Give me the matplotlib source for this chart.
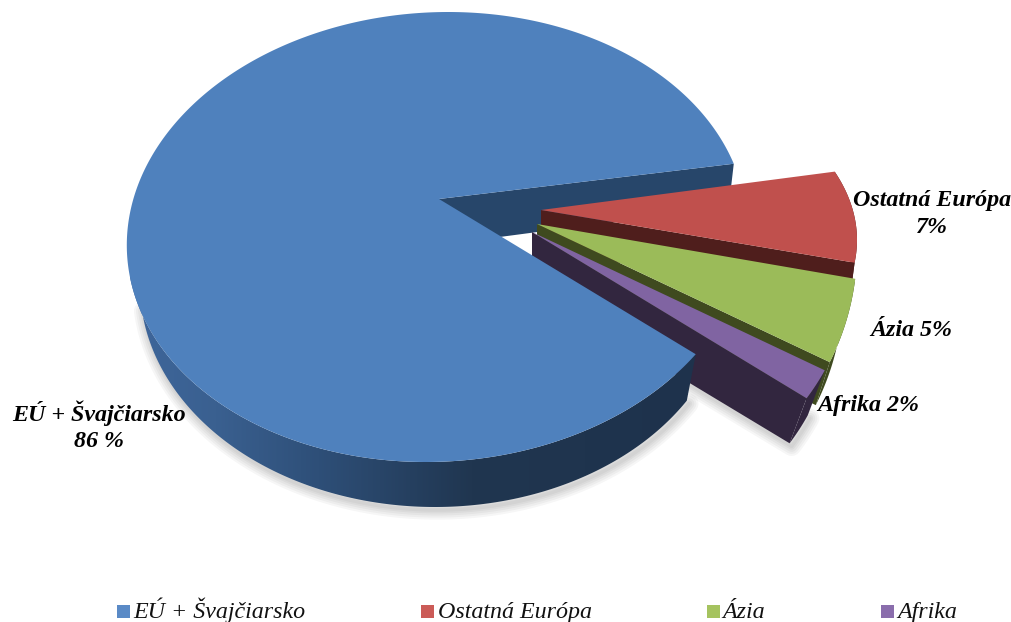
import numpy as np
import matplotlib
matplotlib.use("Agg")
import matplotlib.pyplot as plt
from matplotlib.colors import LinearSegmentedColormap
from matplotlib.patches import Polygon, Rectangle

categories = ["EÚ + Švajčiarsko", "Ostatná Európa", "Ázia", "Afrika"]
values = [86, 7, 5, 2]
slice_labels = ["EÚ + Švajčiarsko\n86 %", "Ostatná Európa\n7%", "Ázia 5%", "Afrika 2%"]

top_colors = ["#4F81BD", "#C0504D", "#9BBB59", "#8064A2"]
wall_colors = ["#27466A", "#4F1E1C", "#3F4A1F", "#32263F"]
legend_colors = ["#5A8AC6", "#CB5B57", "#A5C35F", "#8A6DAC"]

# geometry of each slice in pixels: rim centre, radii, skew, apex, rim/apex wall drop
centres = [(437, 237), (447, 240), (547, 249), (542, 267)]
radii = [(310, 225), (410, 210), (310, 276), (310, 252)]
skews = [-0.05, 0, 0, 0]
apexes = [(439, 199), (541, 210), (537, 224), (532, 232)]
rim_drop = [(-5, 43), (-5, 38), (-14, 43), (-17, 45)]
apex_drop = [46, 40, 40, 56]
START = 19.0

W, H = 1011, 622
fig = plt.figure(figsize=(W / 100, H / 100), dpi=100)
ax = fig.add_axes([0, 0, 1, 1])
ax.set_xlim(0, W)
ax.set_ylim(H, 0)
ax.axis("off")

span = [v / sum(values) * 360 for v in values]
bounds = [START]
for s in span[1:]:
    bounds.append(bounds[-1] - s)


def rim(i, t):
    t = np.radians(t)
    cx, cy = centres[i]
    a, b = radii[i]
    dy = -b * np.sin(t)
    return np.column_stack([cx + a * np.cos(t) + skews[i] * dy, cy + dy])


def soft_shadow(xy, z=1):
    for lw in [14, 11, 8, 5, 2.5]:
        ax.plot(xy[:, 0] + 2, xy[:, 1] + 3, color="black", alpha=0.035, lw=lw,
                solid_capstyle="round", zorder=z)


# blue inner wall
blue_end = START + span[0]
p0 = rim(0, np.array([START]))[0]
ax_blue = apexes[0]
inner = [ax_blue, tuple(p0), (p0[0] + rim_drop[0][0], p0[1] + rim_drop[0][1]),
         (ax_blue[0], ax_blue[1] + apex_drop[0])]
ax.add_patch(Polygon(inner, closed=True, fc=wall_colors[0], ec="none", zorder=2))

# exploded slices, back to front
for k, i in enumerate([1, 2, 3]):
    z = 3 + k
    t = np.linspace(bounds[k], bounds[k + 1], 40)
    arc = rim(i, t)
    dx, dy = rim_drop[i]
    apex = np.array(apexes[i], float)
    low = arc + np.array([dx, dy])
    if i == 3:
        soft_shadow(np.vstack([[apex[0], apex[1] + apex_drop[i]], low[-1:], low[::-1]]))
    ax.add_patch(Polygon(np.vstack([arc, low[::-1]]), closed=True,
                         fc=wall_colors[i], ec="none", zorder=z))
    ax.add_patch(Polygon(np.vstack([apex, arc[-1], low[-1], [apex[0], apex[1] + apex_drop[i]]]),
                         closed=True, fc=wall_colors[i], ec="none", zorder=z))
    ax.add_patch(Polygon(np.vstack([apex, arc]), closed=True, fc=top_colors[i],
                         ec="none", zorder=z + 0.5))

# blue outer wall: horizontal gradient clipped to the wall outline
cx2, cy2, a2, b2 = 435, 285, 295, 222
wall_t = np.linspace(180, blue_end, 300)
tr = np.radians(wall_t)
low_blue = np.column_stack([cx2 + a2 * np.cos(tr), cy2 - b2 * np.sin(tr)])
top_blue = rim(0, wall_t)
soft_shadow(low_blue[12:])
shade = LinearSegmentedColormap.from_list(
    "wall", [(0.0, "#3E669B"), (0.15, "#3A6090"), (0.33, "#2E4F78"),
             (0.6, "#203650"), (1.0, "#1E324C")])
grad = np.linspace(0, 1, 256)[None, :]
im = ax.imshow(grad, cmap=shade, extent=(130, 700, 520, 250), aspect="auto", zorder=7)
clip = Polygon(np.vstack([top_blue, low_blue[::-1]]), closed=True, fc="none", ec="none",
               transform=ax.transData)
ax.add_patch(clip)
im.set_clip_path(clip)
ax.set_xlim(0, W)
ax.set_ylim(H, 0)

# blue top
t = np.linspace(START, blue_end, 400)
ax.add_patch(Polygon(np.vstack([ax_blue, rim(0, t)]), closed=True,
                     fc=top_colors[0], ec="none", zorder=8))

# slice labels
serif = "Liberation Serif"
label_pos = [(99, 426), (932, 214), (911, 331), (868, 405)]
for lab, (x, y) in zip(slice_labels, label_pos):
    ax.text(x, y, lab, family=serif, style="italic", weight="bold", fontsize=17.3,
            ha="center", va="center", linespacing=1.33, color="black", zorder=10)

# legend
swatch_x = [117, 421, 707, 881]
text_x = [133, 438, 722, 897]
for name, col, sx, tx in zip(categories, legend_colors, swatch_x, text_x):
    ax.add_patch(Rectangle((sx, 605), 13, 13, fc=col, ec="none", zorder=10))
    ax.text(tx, 618, name, family=serif, style="italic", fontsize=17.3,
            ha="left", va="baseline", color="#111111", zorder=10)

fig.savefig("out.png", dpi=100)
